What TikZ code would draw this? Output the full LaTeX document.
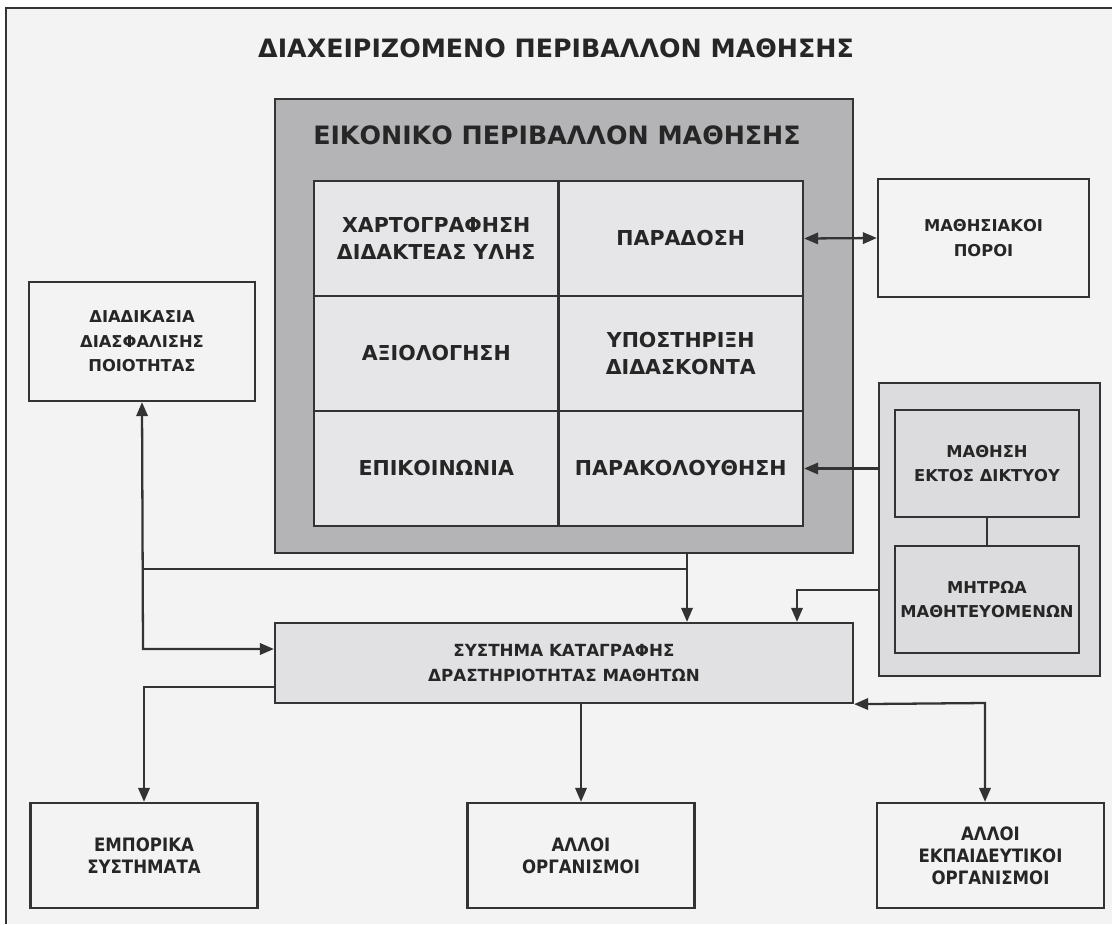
\documentclass[tikz,border=0pt]{standalone}
\usepackage{fontspec}
\setmainfont{DejaVu Sans}
\newfontfamily\condfont{DejaVu Sans Condensed}
\usetikzlibrary{arrows.meta}
\definecolor{pagegray}{HTML}{F3F3F3}
\definecolor{linegray}{HTML}{333333}
\definecolor{textgray}{HTML}{262626}
\definecolor{virtgray}{HTML}{B4B4B7}
\definecolor{cellgray}{HTML}{E6E6E8}
\definecolor{sysgray}{HTML}{E1E1E3}
\definecolor{panelgray}{HTML}{DCDCDE}
\tikzset{
  box/.style={draw=linegray, line width=1.3pt, fill=pagegray, align=center, inner sep=0pt,
    text=textgray, font=\bfseries\fontsize{9.3}{14}\selectfont},
  cellbox/.style={box, fill=cellgray, minimum width=4.89cm, minimum height=2.3cm,
    font=\bfseries\fontsize{11.7}{15.3}\selectfont},
  endbox/.style={box, minimum width=4.54cm, minimum height=2.1cm,
    font=\condfont\bfseries\fontsize{10.5}{12.5}\selectfont},
  headline/.style={text=textgray, font=\bfseries\fontsize{14.4}{16}\selectfont},
  link/.style={draw=linegray, line width=1.3pt},
  arr/.style={link, -{Triangle[length=8pt,width=6.5pt]}},
  twoarr/.style={link, {Triangle[length=8pt,width=6.5pt]}-{Triangle[length=8pt,width=6.5pt]}}
}
\begin{document}
\begin{tikzpicture}[x=0.02cm, y=-0.02cm]
  \useasboundingbox (0,0) rectangle (1112,924);
  \fill[pagegray] (6,8) rectangle (1112,924);
  \draw[linegray, line width=1.4pt] (6,924) -- (6,8) -- (1112,8);
  \node[headline] (title) at (556,48) {ΔΙΑΧΕΙΡΙΖΟΜΕΝΟ ΠΕΡΙΒΑΛΛΟΝ ΜΑΘΗΣΗΣ};

  \node[box, fill=virtgray, minimum width=11.56cm, minimum height=9.08cm] (virt) at (564,326) {};
  \node[headline] (virttitle) at (557,135) {ΕΙΚΟΝΙΚΟ ΠΕΡΙΒΑΛΛΟΝ ΜΑΘΗΣΗΣ};
  \pgfmathsetmacro{\cellw}{244.5}
  \pgfmathsetmacro{\cellh}{115}
  \foreach \name/\col/\row/\txt in {mapping/0/0/{ΧΑΡΤΟΓΡΑΦΗΣΗ\\ΔΙΔΑΚΤΕΑΣ ΥΛΗΣ},
      delivery/1/0/{ΠΑΡΑΔΟΣΗ}, assess/0/1/{ΑΞΙΟΛΟΓΗΣΗ},
      support/1/1/{ΥΠΟΣΤΗΡΙΞΗ\\ΔΙΔΑΣΚΟΝΤΑ}, comm/0/2/{ΕΠΙΚΟΙΝΩΝΙΑ},
      tracking/1/2/{ΠΑΡΑΚΟΛΟΥΘΗΣΗ}}{
    \node[cellbox] (\name) at ({314+\cellw*(\col+0.5)}, {181+\cellh*(\row+0.5)}) {\txt};
  }

  \node[box, minimum width=4.22cm, minimum height=2.36cm] (resources) at (983.5,238) {ΜΑΘΗΣΙΑΚΟΙ\\ΠΟΡΟΙ};
  \node[box, minimum width=4.52cm, minimum height=2.38cm] (quality) at (142,341.5) {ΔΙΑΔΙΚΑΣΙΑ\\ΔΙΑΣΦΑΛΙΣΗΣ\\ΠΟΙΟΤΗΤΑΣ};
  \node[box, fill=panelgray, minimum width=4.42cm, minimum height=5.86cm] (offpanel) at (989.5,529.5) {};
  \node[box, fill=panelgray, minimum width=3.68cm, minimum height=2.14cm] (offline) at (987,463.5) {ΜΑΘΗΣΗ\\ΕΚΤΟΣ ΔΙΚΤΥΟΥ};
  \node[box, fill=panelgray, minimum width=3.68cm, minimum height=2.14cm] (registry) at (987,599.5) {ΜΗΤΡΩΑ\\ΜΑΘΗΤΕΥΟΜΕΝΩΝ};
  \node[box, fill=sysgray, minimum width=11.56cm, minimum height=1.6cm,
    font=\bfseries\fontsize{9.5}{14}\selectfont] (logsys) at (564,663) {ΣΥΣΤΗΜΑ ΚΑΤΑΓΡΑΦΗΣ\\ΔΡΑΣΤΗΡΙΟΤΗΤΑΣ ΜΑΘΗΤΩΝ};

  \node[endbox] (commercial) at (144,855.5) {ΕΜΠΟΡΙΚΑ\\ΣΥΣΤΗΜΑΤΑ};
  \node[endbox] (others) at (581,855.5) {ΑΛΛΟΙ\\ΟΡΓΑΝΙΣΜΟΙ};
  \node[endbox] (eduorgs) at (990.5,855.5) {ΑΛΛΟΙ\\ΕΚΠΑΙΔΕΥΤΙΚΟΙ\\ΟΡΓΑΝΙΣΜΟΙ};

  \coordinate (vsplit) at (687,569);
  \coordinate (qturn) at (143,649);
  \coordinate (regturn) at (797,590);
  \coordinate (comturn) at (144,687);
  \coordinate (eduturn) at (985,703);

  \draw[twoarr] (delivery.east) -- (resources.west);
  \draw[arr] (tracking.east -| offpanel.west) -- (tracking.east);
  \draw[link] (offline) -- (registry);
  \draw[arr] (virt.south -| vsplit) -- (logsys.north -| vsplit);
  \draw[link] (vsplit -| qturn) -- (vsplit);
  \draw[twoarr] (quality.south) -- (qturn) -- (qturn -| logsys.west);
  \draw[arr] (regturn -| offpanel.west) -- (regturn) -- (logsys.north -| regturn);
  \draw[arr] (comturn -| logsys.west) -- (comturn) -- (commercial.north);
  \draw[arr] (logsys.south -| others.north) -- (others.north);
  \draw[twoarr] (logsys.south east) -- (eduturn) -- (eduorgs.north -| eduturn);
\end{tikzpicture}
\end{document}
